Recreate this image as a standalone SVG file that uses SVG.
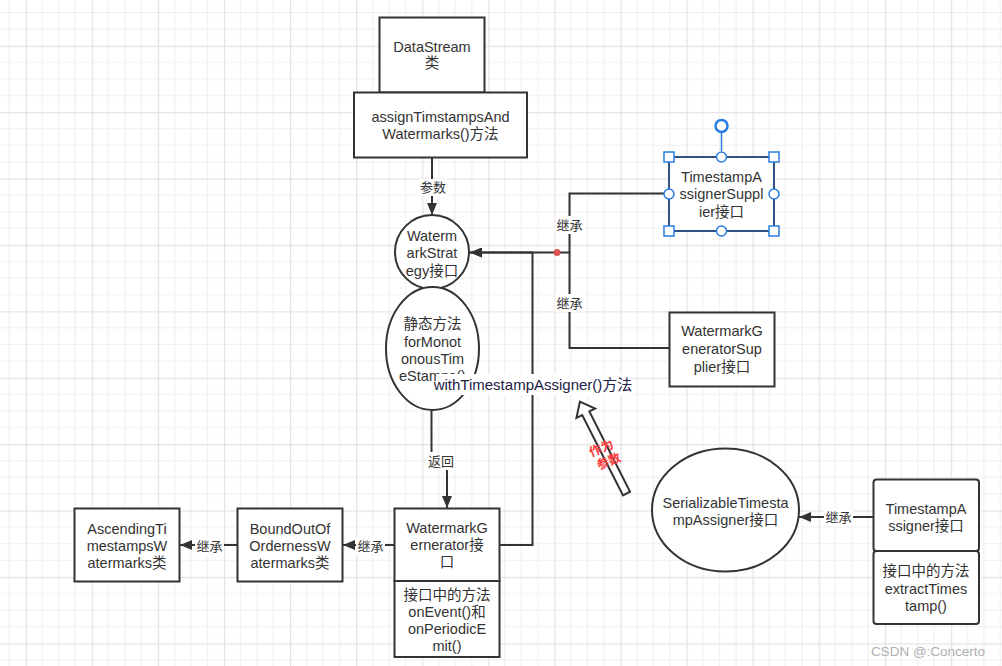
<svg xmlns="http://www.w3.org/2000/svg" width="1002" height="666" viewBox="0 0 1002 666">
<defs>
<pattern id="grid" patternUnits="userSpaceOnUse" x="25.7" y="45.7" width="66.08" height="66.4">
<rect width="66.08" height="66.4" fill="#ffffff"/>
<path d="M16.52,0 V66.4 M33.04,0 V66.4 M49.56,0 V66.4 M0,16.6 H66.08 M0,33.2 H66.08 M0,49.8 H66.08" stroke="#f0f0f0" stroke-width="1.2" fill="none"/>
<path d="M0.6,0 V66.4 M0,0.6 H66.08" stroke="#e3e3e3" stroke-width="1.2" fill="none"/>
</pattern>
<marker id="arr" viewBox="0 0 12 10" refX="12" refY="5" markerWidth="12" markerHeight="10" markerUnits="userSpaceOnUse" orient="auto">
<path d="M0,0 L12,5 L0,10 Z" fill="#333333"/>
</marker>
<style>
.box{fill:#ffffff;stroke:#333333;stroke-width:2}
.t{font-family:"Liberation Sans","Noto Sans CJK SC",sans-serif;font-size:14.5px;fill:#333333;text-anchor:middle}
.lbl{font-family:"Liberation Sans","Noto Sans CJK SC",sans-serif;font-size:13px;fill:#333333;text-anchor:middle}
.edge{fill:none;stroke:#333333;stroke-width:2}
.lblbg{fill:#ffffff}
.h{fill:#ffffff;stroke:#2a7de1;stroke-width:1.5}
.red{font-family:"Noto Sans CJK SC",sans-serif;font-size:12.5px;font-weight:bold;fill:#ff3b3b;text-anchor:middle}
</style>
</defs>
<rect x="0" y="0" width="1002" height="666" fill="url(#grid)"/>

<g id="connectors">
<path class="edge" d="M432,157.5 V215" marker-end="url(#arr)"/>
<rect class="lblbg" x="419" y="179" width="28" height="17"/>
<text class="lbl" x="433" y="192">参数</text>

<path class="edge" d="M431.5,410 V461 H447 V508" marker-end="url(#arr)"/>
<rect class="lblbg" x="426" y="452" width="29" height="18"/>
<text class="lbl" x="441" y="466">返回</text>

<path class="edge" d="M500,545 H532.5 V252.5 H470" marker-end="url(#arr)"/>
<path class="edge" d="M670,193.5 H569.5 V252.5 H470" marker-end="url(#arr)"/>
<path class="edge" d="M670,348 H569.5 V252.5"/>
<circle cx="557" cy="252.5" r="3.5" fill="#d9534f"/>
<rect class="lblbg" x="555" y="216" width="29" height="18"/>
<text class="lbl" x="569.5" y="230">继承</text>
<rect class="lblbg" x="555" y="294" width="29" height="18"/>
<text class="lbl" x="569.5" y="308">继承</text>

<path class="edge" d="M873,517 H799" marker-end="url(#arr)"/>
<rect class="lblbg" x="824" y="509" width="29" height="17"/>
<text class="lbl" x="838.5" y="522">继承</text>

<path class="edge" d="M394,545 H343" marker-end="url(#arr)"/>
<rect class="lblbg" x="356" y="538" width="29" height="17"/>
<text class="lbl" x="370.5" y="551">继承</text>

<path class="edge" d="M237,545 H180" marker-end="url(#arr)"/>
<rect class="lblbg" x="195" y="538" width="29" height="17"/>
<text class="lbl" x="209.5" y="551">继承</text>
</g>

<g id="param-arrow">
<path d="M0,-4 H90 V-10.5 L103,0 L90,10.5 V4 H0 Z" transform="translate(626.5,493.5) rotate(-116.9)" fill="#ffffff" stroke="#333333" stroke-width="2" stroke-linejoin="miter"/>
<g transform="translate(604,455) rotate(-22)">
<text class="red" x="0" y="-3">作为</text>
<text class="red" x="2" y="12">参数</text>
</g>
</g>

<g id="datastream">
<rect class="box" x="379.5" y="17.5" width="105" height="75"/>
<text class="t" x="432" y="52">DataStream</text>
<text class="t" x="432" y="68">类</text>
</g>

<g id="assign">
<rect class="box" x="354" y="92.5" width="173" height="65"/>
<text class="t" x="440.5" y="122">assignTimstampsAnd</text>
<text class="t" x="440.5" y="139">Watermarks()方法</text>
</g>

<g id="watermark-strategy">
<ellipse class="box" cx="432" cy="252" rx="37" ry="37"/>
<text class="t" x="432" y="241">Waterm</text>
<text class="t" x="432" y="258">arkStrat</text>
<text class="t" x="432" y="276">egy接口</text>
</g>

<g id="static-method">
<ellipse class="box" cx="432.5" cy="348.5" rx="46.5" ry="61.5"/>
<text class="t" x="432.5" y="329">静态方法</text>
<text class="t" x="432.5" y="347">forMonot</text>
<text class="t" x="432.5" y="364">onousTim</text>
<text class="t" x="432.5" y="381">eStamps()</text>
</g>

<g id="edge-label-withTimestampAssigner">
<rect class="lblbg" x="436" y="374" width="194" height="21"/>
<text class="t" x="533" y="390" style="font-size:15px;fill:#222244">withTimestampAssigner()方法</text>
</g>

<g id="watermark-generator">
<rect class="box" x="394.5" y="508.5" width="105" height="72.5"/>
<text class="t" x="447" y="533">WatermarkG</text>
<text class="t" x="447" y="550">ernerator接</text>
<text class="t" x="447" y="567">口</text>
<rect class="box" x="394.5" y="581" width="105" height="76"/>
<text class="t" x="447" y="600">接口中的方法</text>
<text class="t" x="447" y="617">onEvent()和</text>
<text class="t" x="447" y="634">onPeriodicE</text>
<text class="t" x="447" y="651">mit()</text>
</g>

<g id="timestamp-assigner-supplier">
<rect x="669" y="157" width="105" height="74" fill="#ffffff" stroke="#2f5283" stroke-width="2"/>
<text class="t" x="721.5" y="182">TimestampA</text>
<text class="t" x="721.5" y="199">ssignerSuppl</text>
<text class="t" x="721.5" y="217">ier接口</text>
<line x1="721.5" y1="132" x2="721.5" y2="151" stroke="#2a7de1" stroke-width="1.5"/>
<circle cx="721.5" cy="126" r="6" fill="#ffffff" stroke="#2a7de1" stroke-width="2.5"/>
<rect class="h" x="664" y="152" width="10" height="10"/>
<rect class="h" x="769" y="152" width="10" height="10"/>
<rect class="h" x="664" y="226" width="10" height="10"/>
<rect class="h" x="769" y="226" width="10" height="10"/>
<circle class="h" cx="721.5" cy="157" r="5"/>
<circle class="h" cx="721.5" cy="231" r="5"/>
<circle class="h" cx="669" cy="194" r="5"/>
<circle class="h" cx="774" cy="194" r="5"/>
</g>

<g id="watermark-generator-supplier">
<rect class="box" x="669.5" y="312.5" width="105" height="74"/>
<text class="t" x="722" y="336">WatermarkG</text>
<text class="t" x="722" y="354">eneratorSup</text>
<text class="t" x="722" y="372">plier接口</text>
</g>

<g id="serializable-timestamp-assigner">
<ellipse class="box" cx="725.5" cy="510" rx="73.5" ry="61.5"/>
<text class="t" x="725.5" y="508">SerializableTimesta</text>
<text class="t" x="725.5" y="525">mpAssigner接口</text>
</g>

<g id="timestamp-assigner">
<rect class="box" x="873.5" y="479.5" width="105.5" height="71.5" rx="3"/>
<text class="t" x="926" y="514">TimestampA</text>
<text class="t" x="926" y="531">ssigner接口</text>
<rect class="box" x="873.5" y="551" width="105.5" height="73" rx="3"/>
<text class="t" x="926" y="576">接口中的方法</text>
<text class="t" x="926" y="594">extractTimes</text>
<text class="t" x="926" y="611">tamp()</text>
</g>

<g id="ascending">
<rect class="box" x="74.5" y="508.5" width="105" height="73"/>
<text class="t" x="127" y="534">AscendingTi</text>
<text class="t" x="127" y="551">mestampsW</text>
<text class="t" x="127" y="568">atermarks类</text>
</g>

<g id="bound-out-of-orderness">
<rect class="box" x="237.5" y="508.5" width="105" height="73"/>
<text class="t" x="290" y="534">BoundOutOf</text>
<text class="t" x="290" y="551">OrdernessW</text>
<text class="t" x="290" y="568">atermarks类</text>
</g>

<text x="928" y="656" style="font-family:'Liberation Sans',sans-serif;font-size:13.5px;fill:#b0b0b0;text-anchor:middle">CSDN @:Concerto</text>
</svg>
